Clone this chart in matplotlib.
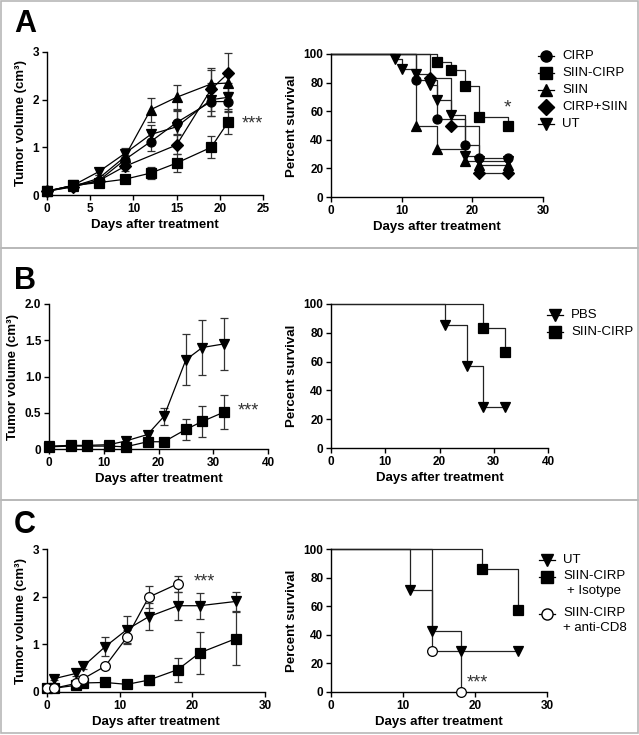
import matplotlib
matplotlib.use("Agg")
import matplotlib.pyplot as plt
from matplotlib.lines import Line2D

plt.rcParams["font.family"] = ["Liberation Sans", "DejaVu Sans"]
plt.rcParams["font.weight"] = "bold"
plt.rcParams["axes.labelweight"] = "bold"

W, H = 639, 735

# ---------------- Panel A data ----------------
a_days = [0, 3, 6, 9, 12, 15, 19, 21]
a_cirp = [0.08, 0.20, 0.30, 0.74, 1.12, 1.52, 1.96, 1.96]
a_cirp_err = [0.02, 0.04, 0.06, 0.10, 0.20, 0.25, 0.30, 0.20]
a_siincirp = [0.08, 0.20, 0.26, 0.33, 0.46, 0.67, 1.00, 1.54]
a_siincirp_err = [0.02, 0.03, 0.04, 0.06, 0.13, 0.19, 0.23, 0.26]
a_siin = [0.08, 0.18, 0.35, 0.80, 1.79, 2.05, 2.33, 2.35]
a_siin_err = [0.02, 0.04, 0.07, 0.12, 0.25, 0.25, 0.30, 0.20]
a_combo_days = [0, 3, 6, 9, 15, 19, 21]
a_combo = [0.08, 0.17, 0.30, 0.60, 1.05, 2.22, 2.56]
a_combo_err = [0.02, 0.03, 0.05, 0.10, 0.20, 0.45, 0.42]
a_ut = [0.08, 0.20, 0.49, 0.87, 1.27, 1.43, 2.00, 2.05]
a_ut_err = [0.02, 0.04, 0.06, 0.12, 0.20, 0.35, 0.35, 0.30]

a_km_cirp_t = [0, 12, 15, 19, 21, 25]
a_km_cirp_s = [100, 81.8, 54.5, 36.4, 27.3, 27.3]
a_km_siincirp_t = [0, 15, 17, 19, 21, 25]
a_km_siincirp_s = [100, 94.4, 88.9, 77.8, 55.6, 50.0]
a_km_siin_t = [0, 12, 15, 19, 21, 25]
a_km_siin_s = [100, 50.0, 33.3, 25.0, 22.2, 22.2]
a_km_combo_t = [0, 14, 17, 21, 25]
a_km_combo_s = [100, 83.3, 50.0, 16.7, 16.7]
a_km_ut_t = [0, 9, 10, 12, 14, 15, 17, 19, 21, 25]
a_km_ut_s = [100, 96.4, 89.3, 85.7, 78.6, 67.9, 57.1, 28.6, 25.0, 25.0]
a_labels = ["CIRP", "SIIN-CIRP", "SIIN", "CIRP+SIIN", "UT"]

# ---------------- Panel B data ----------------
b_days = [0, 4, 7, 11, 14, 18, 21, 25, 28, 32]
b_pbs = [0.04, 0.05, 0.05, 0.06, 0.11, 0.20, 0.45, 1.23, 1.40, 1.45]
b_pbs_err = [0.01, 0.01, 0.01, 0.02, 0.03, 0.05, 0.12, 0.35, 0.38, 0.36]
b_siincirp = [0.03, 0.04, 0.04, 0.04, 0.03, 0.10, 0.10, 0.27, 0.38, 0.51]
b_siincirp_err = [0.01, 0.01, 0.01, 0.01, 0.01, 0.03, 0.03, 0.15, 0.22, 0.23]
b_yticks = [0, 0.5, 1.0, 1.5, 2.0]
b_yticklabels = ["0", "0.5", "1.0", "1.5", "2.0"]

b_km_pbs_t = [0, 21, 25, 28, 32]
b_km_pbs_s = [100, 85.7, 57.1, 28.6, 28.6]
b_km_siincirp_t = [0, 28, 32]
b_km_siincirp_s = [100, 83.3, 66.7]
b_labels = ["PBS", "SIIN-CIRP"]

# ---------------- Panel C data ----------------
c_ut_days = [1, 4, 5, 8, 11, 14, 18, 21, 26]
c_ut = [0.28, 0.39, 0.54, 0.95, 1.31, 1.58, 1.81, 1.81, 1.90]
c_ut_err = [0.03, 0.05, 0.06, 0.20, 0.28, 0.28, 0.29, 0.27, 0.20]
c_iso_days = [0, 1, 4, 5, 8, 11, 14, 18, 21, 26]
c_iso = [0.09, 0.08, 0.14, 0.19, 0.20, 0.16, 0.25, 0.47, 0.82, 1.12]
c_iso_err = [0.01, 0.01, 0.02, 0.03, 0.03, 0.03, 0.10, 0.25, 0.44, 0.55]
c_cd8_days = [0, 1, 4, 5, 8, 11, 14, 18]
c_cd8 = [0.09, 0.08, 0.18, 0.28, 0.54, 1.15, 1.99, 2.27]
c_cd8_err = [0.01, 0.01, 0.03, 0.04, 0.06, 0.15, 0.23, 0.17]

c_km_ut_t = [0, 11, 14, 18, 26]
c_km_ut_s = [100, 71.4, 42.9, 28.6, 28.6]
c_km_iso_t = [0, 21, 26]
c_km_iso_s = [100, 85.7, 57.1]
c_km_cd8_t = [0, 14, 18]
c_km_cd8_s = [100, 28.6, 0]
c_labels = ["UT", "SIIN-CIRP\n+ Isotype", "SIIN-CIRP\n+ anti-CD8"]


def px_axes(fig, left, right, top, bottom):
    return fig.add_axes([left / W, 1 - bottom / H, (right - left) / W, (bottom - top) / H])


def style(ax, xlim, xticks, ylim, yticks, ylabel):
    ax.set_xlim(*xlim)
    ax.set_ylim(*ylim)
    ax.set_xticks(xticks)
    ax.set_yticks(yticks)
    for s in ["top", "right"]:
        ax.spines[s].set_visible(False)
    for s in ["left", "bottom"]:
        ax.spines[s].set_linewidth(1.0)
    ax.tick_params(direction="out", length=3.5, width=1, labelsize=8.5, pad=2)
    ax.set_xlabel("Days after treatment", fontsize=9.5, labelpad=3)
    ax.set_ylabel(ylabel, fontsize=9.5, labelpad=4)


def growth(ax, x, y, err, marker, ms=6.5, face="black"):
    ax.errorbar(x, y, yerr=err, color="black", ecolor="#333333", elinewidth=0.9,
                capsize=3, capthick=0.9, lw=0.9, marker=marker, ms=ms,
                mfc=face, mec="black", mew=0.9, clip_on=False, zorder=3)


def km(ax, t, s, marker, ms=6.5, face="black"):
    ax.step(t, s, where="post", color="#222222", lw=0.9, clip_on=False, zorder=2)
    ax.plot(t[1:], s[1:], ls="none", marker=marker, ms=ms, mfc=face, mec="black",
            mew=0.9, clip_on=False, zorder=3)


def legend(fig, x, ys, labels, markers, faces, fs=9.5):
    for y, lab, m, f in zip(ys, labels, markers, faces):
        fy = 1 - y / H
        fig.add_artist(Line2D([(x - 8) / W, x / W, (x + 8) / W], [fy, fy, fy],
                              transform=fig.transFigure, color="black", lw=0.9,
                              marker=m, ms=8, mfc=f, mec="black", markevery=[1]))
        if "\n" in lab:
            fig.text((x + 16) / W, fy + 7 / H, lab, fontsize=fs, fontweight="normal",
                     va="top", ha="left", multialignment="center", linespacing=1.3)
        else:
            fig.text((x + 16) / W, fy, lab, fontsize=fs, fontweight="normal",
                     va="center", ha="left")


fig = plt.figure(figsize=(W / 100, H / 100), dpi=100)
fig.patch.set_facecolor("white")

# panel borders
for y0, y1 in [(1, 248), (248, 500), (500, 733)]:
    fig.add_artist(plt.Rectangle((1 / W, 1 - y1 / H), (637 / W), (y1 - y0) / H,
                                 transform=fig.transFigure, fill=False,
                                 ec="#b8b8b8", lw=1.2))

# ---------------- A ----------------
ax = px_axes(fig, 47, 263, 52, 195)
style(ax, (0, 25), [0, 5, 10, 15, 20, 25], (0, 3), [0, 1, 2, 3], "Tumor volume (cm³)")
growth(ax, a_days, a_siin, a_siin_err, "^")
growth(ax, a_days, a_ut, a_ut_err, "v")
growth(ax, a_combo_days, a_combo, a_combo_err, "D", ms=6)
growth(ax, a_days, a_cirp, a_cirp_err, "o")
growth(ax, a_days, a_siincirp, a_siincirp_err, "s")
ax.text(23.8, 1.50, "***", fontsize=13, fontweight="normal", color="#333333",
        ha="center", va="center")

ax = px_axes(fig, 331, 543, 54, 197)
style(ax, (0, 30), [0, 10, 20, 30], (0, 100), [0, 20, 40, 60, 80, 100], "Percent survival")
km(ax, a_km_ut_t, a_km_ut_s, "v")
km(ax, a_km_siin_t, a_km_siin_s, "^")
km(ax, a_km_combo_t, a_km_combo_s, "D", ms=6)
km(ax, a_km_cirp_t, a_km_cirp_s, "o")
km(ax, a_km_siincirp_t, a_km_siincirp_s, "s")
ax.text(25, 62, "*", fontsize=14, fontweight="normal", color="#333333",
        ha="center", va="center")
legend(fig, 546, [56, 73, 90, 107, 124], a_labels, ["o", "s", "^", "D", "v"], ["black"] * 5)

# ---------------- B ----------------
ax = px_axes(fig, 49, 268, 304, 449)
style(ax, (0, 40), [0, 10, 20, 30, 40], (0, 2.0), b_yticks, "Tumor volume (cm³)")
ax.set_yticklabels(b_yticklabels)
growth(ax, b_days, b_pbs, b_pbs_err, "v")
growth(ax, b_days, b_siincirp, b_siincirp_err, "s")
ax.text(36.4, 0.52, "***", fontsize=13, fontweight="normal", color="#333333",
        ha="center", va="center")

ax = px_axes(fig, 331, 548, 304, 448)
style(ax, (0, 40), [0, 10, 20, 30, 40], (0, 100), [0, 20, 40, 60, 80, 100], "Percent survival")
km(ax, b_km_pbs_t, b_km_pbs_s, "v")
km(ax, b_km_siincirp_t, b_km_siincirp_s, "s")
legend(fig, 555, [315, 332], b_labels, ["v", "s"], ["black"] * 2)

# ---------------- C ----------------
ax = px_axes(fig, 47, 265, 549, 692)
style(ax, (0, 30), [0, 10, 20, 30], (0, 3), [0, 1, 2, 3], "Tumor volume (cm³)")
growth(ax, c_ut_days, c_ut, c_ut_err, "v")
growth(ax, c_iso_days, c_iso, c_iso_err, "s")
growth(ax, c_cd8_days, c_cd8, c_cd8_err, "o", ms=7, face="white")
ax.text(21.6, 2.30, "***", fontsize=13, fontweight="normal", color="#333333",
        ha="center", va="center")

ax = px_axes(fig, 331, 547, 549, 692)
style(ax, (0, 30), [0, 10, 20, 30], (0, 100), [0, 20, 40, 60, 80, 100], "Percent survival")
km(ax, c_km_ut_t, c_km_ut_s, "v")
km(ax, c_km_iso_t, c_km_iso_s, "s")
km(ax, c_km_cd8_t, c_km_cd8_s, "o", ms=7, face="white")
ax.text(20.3, 6.5, "***", fontsize=13, fontweight="normal", color="#333333",
        ha="center", va="center")
legend(fig, 547, [560, 577, 614], c_labels, ["v", "s", "o"], ["black", "black", "white"])

# panel letters
for lab, y in [("A", 32), ("B", 289), ("C", 533)]:
    fig.text(14 / W, 1 - y / H, lab, fontsize=22, fontweight="bold", va="baseline")

fig.savefig("out.png", dpi=100)
